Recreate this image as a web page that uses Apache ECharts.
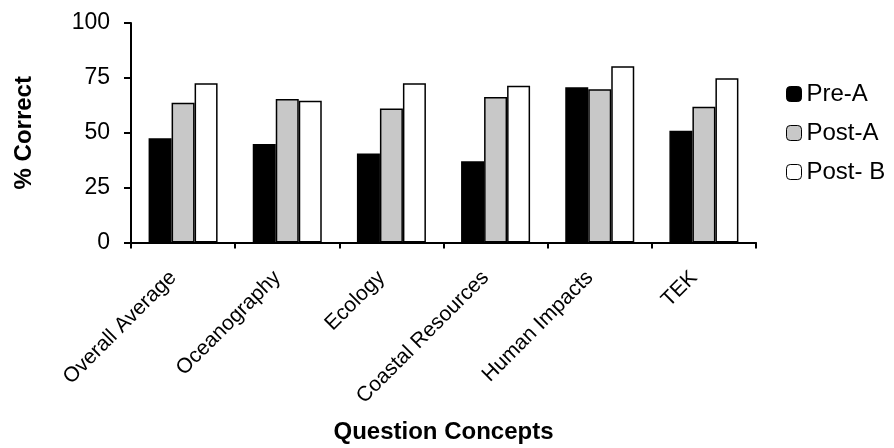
<!DOCTYPE html>
<html>
<head>
<meta charset="utf-8">
<script src="https://cdn.jsdelivr.net/npm/echarts@6/dist/echarts.min.js"></script>
<style>html,body{margin:0;padding:0;background:#fff}#c{width:894px;height:448px}</style>
</head>
<body>
<div id="c"></div>
<script>
var categories = ['Overall Average', 'Oceanography', 'Ecology', 'Coastal Resources', 'Human Impacts', 'TEK'];
var preA  = [47.5, 44.9, 40.5, 37.0, 70.7, 50.9];
var postA = [63.7, 65.4, 61.1, 66.3, 69.8, 61.9];
var postB = [72.5, 64.6, 72.5, 71.4, 80.3, 74.8];
var yTicks = [0, 25, 50, 75, 100];

var FONT = 'Liberation Sans, Arial, sans-serif';
var chart = echarts.init(document.getElementById('c'), null, {renderer: 'canvas'});
function bar(name, data, color) {
  return {
    name: name, type: 'bar', data: data, barWidth: 23, barGap: '0%',
    itemStyle: {color: color, borderColor: '#000', borderWidth: 1.5},
    emphasis: {disabled: true}
  };
}
chart.setOption({
  animation: false,
  backgroundColor: '#fff',
  grid: {left: 131, right: 138, top: 23, bottom: 205.5},
  legend: {
    orient: 'vertical', left: 781, top: 77, itemGap: 15,
    itemWidth: 15, itemHeight: 15,
    textStyle: {fontFamily: FONT, fontSize: 24, color: '#000'},
    data: [
      {name: 'Pre-A', itemStyle: {color: '#000', borderColor: '#000', borderWidth: 1}},
      {name: 'Post-A', itemStyle: {color: '#c8c8c8', borderColor: '#000', borderWidth: 1}},
      {name: 'Post- B', itemStyle: {color: '#fff', borderColor: '#000', borderWidth: 1}}
    ]
  },
  xAxis: {
    type: 'category', data: categories,
    name: 'Question Concepts', nameLocation: 'middle', nameGap: 178,
    nameTextStyle: {fontFamily: FONT, fontSize: 24, fontWeight: 'bold', color: '#000'},
    axisLine: {lineStyle: {color: '#000', width: 2}},
    axisTick: {show: true, length: 6, lineStyle: {color: '#000', width: 2}},
    axisLabel: {rotate: 45, interval: 0, margin: 22, padding: [0, 14, 0, 0],
      fontFamily: FONT, fontSize: 21, color: '#000'}
  },
  yAxis: {
    type: 'value', min: yTicks[0], max: yTicks[yTicks.length - 1], interval: 25,
    name: '% Correct', nameLocation: 'middle', nameGap: 95,
    nameTextStyle: {fontFamily: FONT, fontSize: 24, fontWeight: 'bold', color: '#000'},
    axisLine: {show: true, lineStyle: {color: '#000', width: 2}},
    axisTick: {show: true, length: 7, lineStyle: {color: '#000', width: 2}},
    splitLine: {show: false},
    axisLabel: {margin: 21, fontFamily: FONT, fontSize: 23, color: '#000'}
  },
  series: [
    bar('Pre-A', preA, '#000'),
    bar('Post-A', postA, '#c8c8c8'),
    bar('Post- B', postB, '#fff')
  ]
});
</script>
</body>
</html>
